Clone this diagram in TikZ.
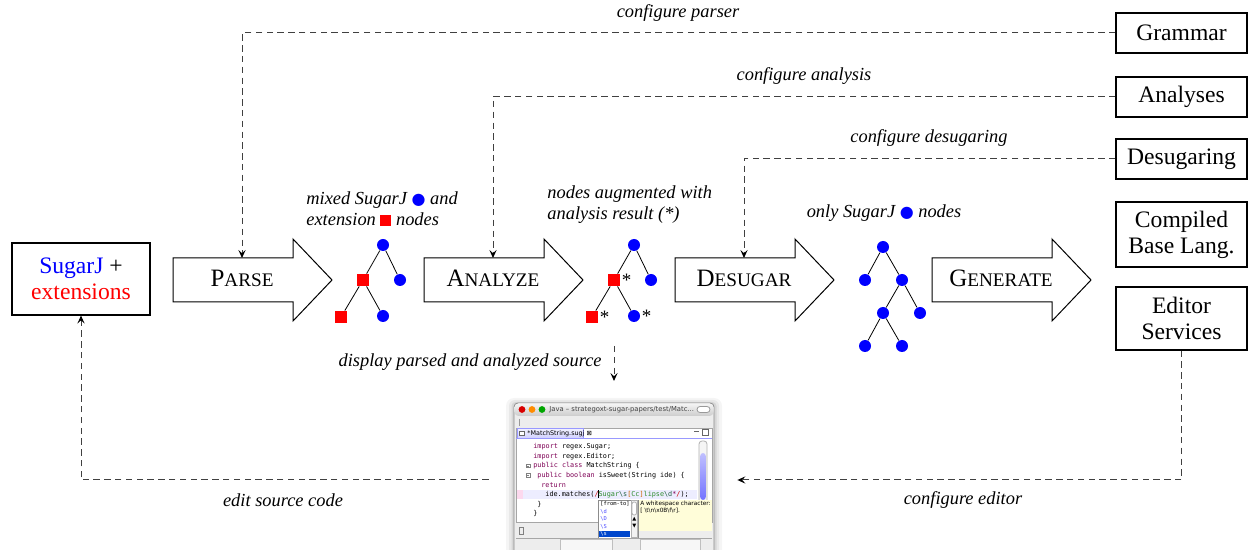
\documentclass[tikz,border=0pt]{standalone}
\usepackage{fontspec}
\setmainfont{Liberation Serif}
\newfontfamily\symfont{DejaVu Sans}
\newfontfamily\uifont{DejaVu Sans}
\newfontfamily\codefont{DejaVu Sans Mono}
\usetikzlibrary{arrows.meta,calc,positioning}

\definecolor{kw}{HTML}{7F0055}
\definecolor{rxgreen}{HTML}{2E8B2E}
\definecolor{rxdark}{HTML}{1F5F3F}
\newcommand{\bsl}{\char92\relax}

\tikzset{
  tool/.style={draw, line width=0.55pt, fill=white, minimum width=65.5pt, minimum height=20pt,
    align=center, inner sep=2pt, font=\fontsize{11.8}{13}\selectfont},
  sj/.style={circle, fill=blue, minimum size=6pt, inner sep=0pt},
  ext/.style={rectangle, fill=red, minimum size=6pt, inner sep=0pt},
  ast/.style={label={[inner sep=0.5pt, font=\fontsize{9.5}{10}\selectfont]right:*}},
  note/.style={font=\fontsize{9.2}{10.5}\selectfont\itshape, align=left, inner sep=1pt},
  cfg/.style={dash pattern=on 3.2pt off 2.2pt, black!75, line width=0.5pt,
    -{Stealth[length=4pt,width=3.6pt,inset=1.6pt,black]}},
  code/.style={anchor=west, inner sep=0pt, font=\codefont\fontsize{3.4}{4}\selectfont},
  ui/.style={anchor=west, inner sep=0pt, font=\uifont\fontsize{3.2}{4}\selectfont},
  pop/.style={code, font=\codefont\fontsize{2.7}{3.2}\selectfont},
}

\begin{document}
\begin{tikzpicture}[x=0.5pt, y=-0.5pt]
\useasboundingbox (0,0) rectangle (1248,550);

% input and tool boxes
\node[tool, minimum width=69pt, minimum height=36pt] (src) at (81,279)
  {\textcolor{blue}{SugarJ} +\\\textcolor{red}{extensions}};
\node[tool] (gram) at (1181.5,33) {Grammar};
\node[tool] (ana) at (1181.5,97) {Analyses};
\node[tool] (des) at (1181.5,159) {Desugaring};
\node[tool, minimum height=32.5pt] (comp) at (1181.5,234.5) {Compiled\\Base Lang.};
\node[tool, minimum height=31.5pt] (edsvc) at (1181.5,318.5) {Editor\\Services};

% pipeline stages
\foreach \nm/\lx/\hd/\tl in {parse/173/P/ARSE, analyze/424/A/NALYZE, desugar/675/D/ESUGAR, generate/932/G/ENERATE}{
  \draw[line width=0.5pt, fill=white] (\lx,258) -- ++(120,0) -- ++(0,-19) -- ++(39,41)
    -- ++(-39,41) -- ++(0,-19) -- ++(-120,0) -- cycle;
  \node[inner sep=0pt] (\nm) at (\lx+69,278)
    {{\fontsize{12.5}{14}\selectfont\hd}{\fontsize{9.6}{12}\selectfont\tl}};
  \coordinate (\nm-top) at (\lx+69,258);
}

% parsed tree
\node[sj] (p0) at (383,245) {};
\node[ext] (p1) at (363,280) {};
\node[sj] (p2) at (400,280) {};
\node[ext] (p3) at (341,317) {};
\node[sj] (p4) at (383,316) {};
\draw (p0) -- (p1) (p0) -- (p2) (p1) -- (p3) (p1) -- (p4);

% analyzed tree
\node[sj] (a0) at (634,245) {};
\node[ext, ast] (a1) at (614,280) {};
\node[sj] (a2) at (651,280) {};
\node[ext, ast] (a3) at (592,317) {};
\node[sj, ast] (a4) at (634,316) {};
\draw (a0) -- (a1) (a0) -- (a2) (a1) -- (a3) (a1) -- (a4);

% desugared tree
\node[sj] (d0) at (883,247) {};
\node[sj] (d1) at (865,280) {};
\node[sj] (d2) at (902,280) {};
\node[sj] (d3) at (883,313) {};
\node[sj] (d4) at (920,313) {};
\node[sj] (d5) at (865,346) {};
\node[sj] (d6) at (902,346) {};
\draw (d0) -- (d1) (d0) -- (d2) (d2) -- (d3) (d2) -- (d4) (d3) -- (d5) (d3) -- (d6);

% tree notes
\node[note, anchor=west] (n1) at (304,209)
  {mixed SugarJ {\color{blue}\symfont\fontsize{8}{9}\selectfont ●} and\\
   extension {\color{red}\rule{5.5pt}{5.5pt}} nodes};
\node[note, anchor=west] (n2) at (545,205) {nodes augmented with\\analysis result (*)};
\node[note] (n3) at (884,213) {only SugarJ {\color{blue}\symfont\fontsize{8}{9}\selectfont ●} nodes};

% configuration flows
\draw[cfg] (gram.west) -| (parse-top);
\draw[cfg] (ana.west) -| (analyze-top);
\draw[cfg] (des.west) -| (desugar-top);
\node[note] (lp) at (678,13) {configure parser};
\node[note] (la) at (804,76) {configure analysis};
\node[note] (ld) at (929,138) {configure desugaring};

% editor screenshot
\node[minimum width=124pt, minimum height=75pt, inner sep=0pt] (shot) at (613,480) {};
\fill[black!4, rounded corners=4pt] (506,398) rectangle (722,560);
\fill[black!9, rounded corners=3pt] (509,400) rectangle (719,560);
\fill[black!16, rounded corners=2pt] (511.5,402) rectangle (716.5,560);
\draw[black!45, fill=black!7, rounded corners=2pt] (514,403) rectangle (714,560);
\shade[top color=black!4, bottom color=black!20, rounded corners=2pt] (514.5,403.5) rectangle (713.5,416);
\fill[red!85!black] (522,409.5) circle (1.7pt);
\fill[orange!90!yellow] (532,409.5) circle (1.7pt);
\fill[green!65!black] (542,409.5) circle (1.7pt);
\node[ui, text=black!75, font=\uifont\fontsize{3.4}{4}\selectfont] (wt) at (549,409.5)
  {Java – strategoxt-sugar-papers/test/Matc...};
\draw[black!40, fill=white, rounded corners=1.5pt] (697,406.5) rectangle (710,412.5);
\draw[black!40] (519,419) -- (519,426);
\draw[black!35, fill=white] (516,428) rectangle (712,522);
\shade[top color=blue!5, bottom color=blue!18] (517,428.5) rectangle (583,438);
\draw[blue!40] (517,438) -- (517,428.5) -- (583,428.5) -- (583,438);
\draw[blue!40] (516,438.5) -- (712,438.5);
\draw[black!60, fill=white] (519.5,431) rectangle (524.5,435.5);
\node[ui] (wtab) at (527,433.3) {*MatchString.sugj {\symfont ⊠}};
\draw[black!60] (694,431) -- (699,431);
\draw[black!60] (702,429.5) rectangle (708,435.5);
\fill[blue!7] (523,490) rectangle (697,499);
\fill[magenta!15] (517,490) rectangle (523,499);
\foreach \fy in {466,475.5}{
  \draw[black!50, line width=0.3pt] (526.5,\fy-1.7) rectangle (530,\fy+1.7);
  \draw[black!50, line width=0.3pt] (527.3,\fy) -- (529.2,\fy);
}
\node[code] (l1) at (533,447) {\textcolor{kw}{import} regex.Sugar;};
\node[code] (l2) at (533,456.5) {\textcolor{kw}{import} regex.Editor;};
\node[code] (l3) at (533,466) {\textcolor{kw}{public class} MatchString \{};
\node[code] (l4) at (537,475.5) {\textcolor{kw}{public boolean} isSweet(String ide) \{};
\node[code] (l5) at (541,485) {\textcolor{kw}{return}};
\node[code] (l6) at (545,494.5) {ide.matches(\textcolor{red!80!black}{/}\textcolor{rxgreen}{Sugar}\textcolor{rxdark}{\bsl s}\textcolor{orange!80!black}{[}\textcolor{rxgreen}{Cc}\textcolor{orange!80!black}{]}\textcolor{rxgreen}{lipse}\textcolor{rxdark}{\bsl d}\textcolor{kw}{*}\textcolor{red!80!black}{/});};
\node[code] (l7) at (537,504) {\}};
\node[code] (l8) at (533,513.5) {\}};
\draw[black, line width=0.3pt] (598,490.5) -- (598,498.5);
\draw[black!30, fill=black!4, rounded corners=1.5pt] (699,441) rectangle (707,507);
\shade[top color=blue!25, bottom color=blue!55, rounded corners=1.5pt] (700.2,453) rectangle (705.8,500);
% completion popup
\fill[yellow!15] (638,500) rectangle (712,531);
\draw[black!45, fill=white] (598,500) rectangle (638,538);
\fill[blue!65!cyan!80!black] (598.5,531) rectangle (630,537.5);
\draw[black!30, fill=black!5] (631,500.5) rectangle (637.5,537.5);
\draw[black!30, fill=white, rounded corners=1pt] (632,502) rectangle (636.5,515);
\node[ui, font=\uifont\fontsize{2.6}{3}\selectfont] (ar1) at (632,519.5) {▲};
\node[ui, font=\uifont\fontsize{2.6}{3}\selectfont] (ar2) at (632,526.5) {▼};
\node[pop] (c1) at (600,504) {[from-to]};
\node[pop, text=blue!70] (c2) at (600,511.5) {\bsl d};
\node[pop, text=blue!70] (c3) at (600,519) {\bsl D};
\node[pop, text=blue!70] (c4) at (600,526.5) {\bsl S};
\node[pop, text=white] (c5) at (600,534.2) {\bsl s};
\node[ui, font=\uifont\fontsize{2.9}{3.5}\selectfont] (tip1) at (640,504) {A whitespace character:};
\node[ui, font=\uifont\fontsize{2.9}{3.5}\selectfont] (tip2) at (640,511) {[ \bsl t\bsl n\bsl x0B\bsl f\bsl r].};
\draw[black!35] (516,538.5) -- (712,538.5);
\draw[black!50, line width=0.3pt] (519,527) rectangle (523,534);
\draw[black!25, fill=black!3] (560,539) rectangle (612,556);
\draw[black!25, fill=black!3] (640,539) rectangle (700,556);

% display and editor flows
\coordinate (dispa) at (614,346);
\coordinate (dispb) at (614,381);
\draw[cfg] (dispa) -- (dispb);
\node[note, anchor=east] (ls) at (604,362) {display parsed and analyzed source};
\draw[cfg] (shot.west) -| (src.south);
\draw[cfg] (edsvc.south) |- (shot.east);
\node[note] (le) at (283,500) {edit source code};
\node[note] (lc) at (963,500) {configure editor};
\end{tikzpicture}
\end{document}
